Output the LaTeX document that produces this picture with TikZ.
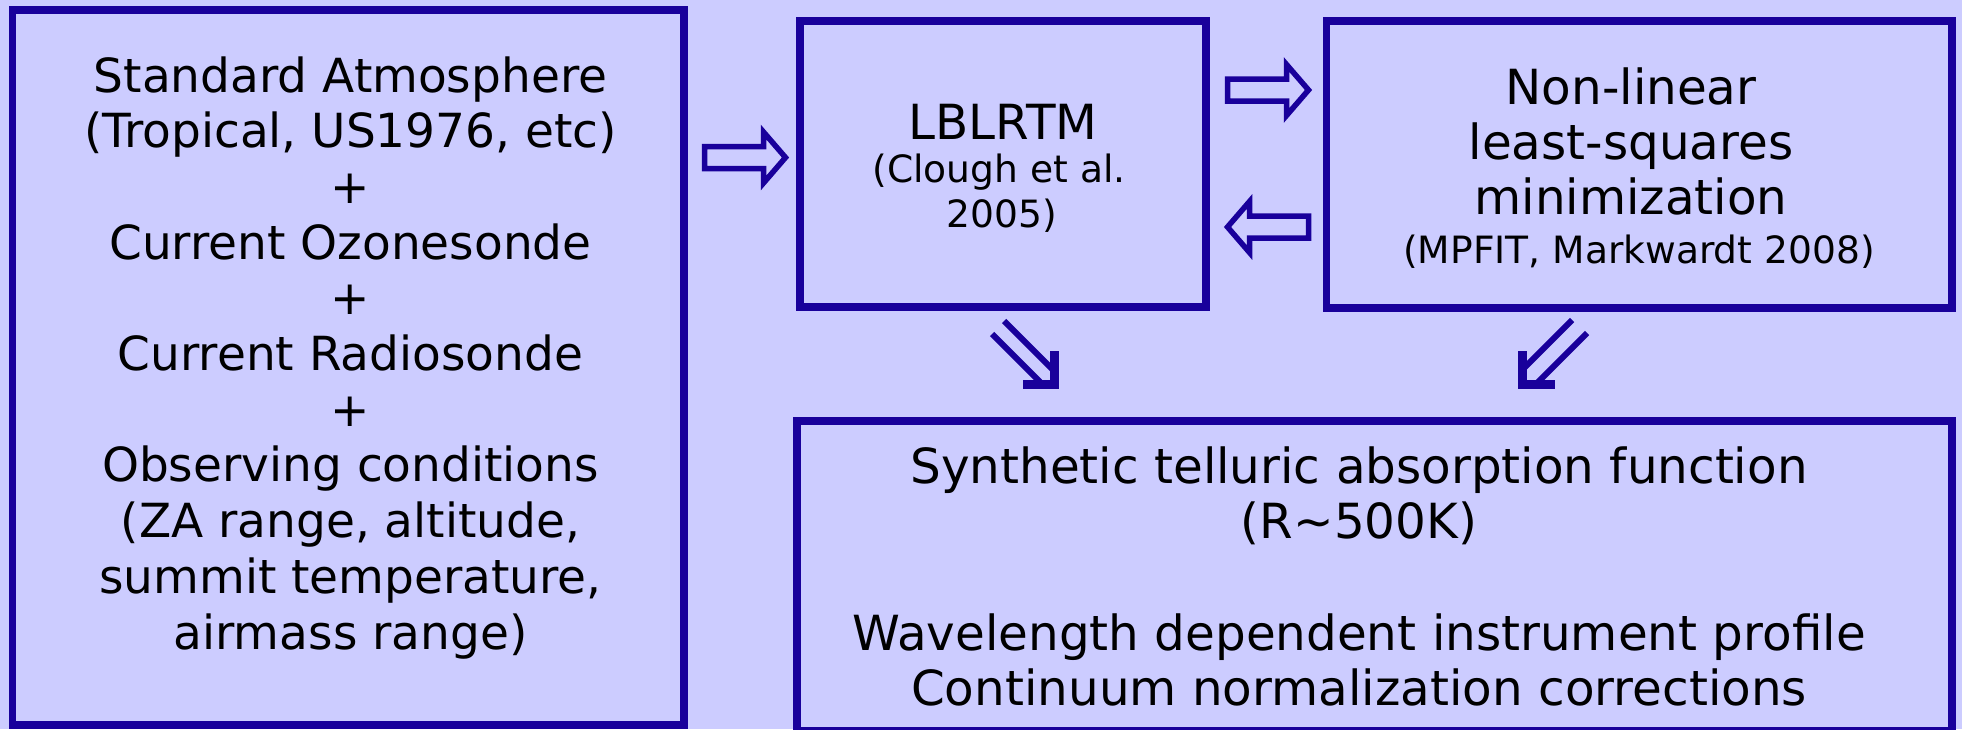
\documentclass[tikz,border=0pt]{standalone}
\usepackage{fontspec}
\setmainfont{DejaVu Sans}
\definecolor{bg}{RGB}{204,204,255}
\definecolor{edge}{RGB}{25,0,155}
\tikzset{
  box/.style={draw=edge, fill=bg, line width=3.75pt, inner sep=0pt, outer sep=0pt},
  big/.style={anchor=base, inner sep=0pt, text=black, font=\fontsize{24.2}{29}\selectfont},
  bigl/.style={anchor=base, inner sep=0pt, text=black, font=\fontsize{23.5}{28}\selectfont},
  small/.style={anchor=base, inner sep=0pt, text=black, font=\fontsize{18.8}{22}\selectfont},
  blockarrow/.style={draw=edge, line width=2.75pt, miter limit=10},
  diag/.style={draw=edge, line width=3pt},
  diaghead/.style={draw=edge, line width=4.5pt, line join=miter, line cap=rect},
}
\begin{document}
\begin{tikzpicture}[x=0.5pt,y=-0.5pt]
\useasboundingbox (0,0) rectangle (1962,729);
\clip (0,0) rectangle (1962,729);
\fill[bg] (0,0) rectangle (1962,729);
% boxes
\node[box, minimum width=335.75pt, minimum height=357.5pt] (src) at (348.25,367.5) {};
\node[box, minimum width=203pt, minimum height=143pt] (lbl) at (1003,164) {};
\node[box, minimum width=312.75pt, minimum height=143.5pt] (fit) at (1639.25,164.5) {};
\node[box, minimum width=577.5pt, minimum height=155pt] (out) at (1374.5,576) {};
% left box text
\node[bigl] (s1) at (350.5,92) {Standard Atmosphere};
\node[bigl] (s2) at (350.5,147.7) {(Tropical, US1976, etc)};
\node[bigl] (s3) at (350.5,203.4) {+};
\node[bigl] (s4) at (350.5,259.1) {Current Ozonesonde};
\node[bigl] (s5) at (350.5,314.8) {+};
\node[bigl] (s6) at (350.5,370.5) {Current Radiosonde};
\node[bigl] (s7) at (350.5,426.2) {+};
\node[bigl] (s8) at (350.5,481.9) {Observing conditions};
\node[bigl] (s9) at (350.5,537.6) {(ZA range, altitude,};
\node[bigl] (s10) at (350.5,593.3) {summit temperature,};
\node[bigl] (s11) at (350.5,649) {airmass range)};
% LBLRTM text
\node[big] (l1) at (1003,139) {LBLRTM};
\node[small] (l2) at (999,182.5) {(Clough et al.};
\node[small] (l3) at (1002,227.5) {2005)};
% fit text
\node[big] (f1) at (1631,104) {Non-linear};
\node[big] (f2) at (1631,159) {least-squares};
\node[big] (f3) at (1631,214) {minimization};
\node[small] (f4) at (1639,263) {(MPFIT, Markwardt 2008)};
% output text
\node[big] (o1) at (1359,483) {Synthetic telluric absorption function};
\node[big] (o2) at (1359,538.7) {(R\textasciitilde500K)};
\node[big] (o3) at (1359,650) {Wavelength dependent instrument profile};
\node[big] (o4) at (1359,705.8) {Continuum normalization corrections};
% block arrows
\coordinate (a1) at (704.5,157.5);
\coordinate (a2) at (1227.5,90);
\coordinate (a3) at (1308.5,227);
\draw[blockarrow, shift={(a1)}] (0,-11) -- (59,-11) -- (59,-25.5) -- (81,0) -- (59,25.5) -- (59,11) -- (0,11) -- cycle;
\draw[blockarrow, shift={(a2)}] (0,-11) -- (59,-11) -- (59,-25.5) -- (81,0) -- (59,25.5) -- (59,11) -- (0,11) -- cycle;
\draw[blockarrow, shift={(a3)}, xscale=-1] (0,-11) -- (59,-11) -- (59,-25.5) -- (81,0) -- (59,25.5) -- (59,11) -- (0,11) -- cycle;
% diagonal double arrows
\coordinate (d1a) at (992,334); \coordinate (d1b) at (1040,382);
\coordinate (d2a) at (1004,321); \coordinate (d2b) at (1052,369);
\draw[diag] (d1a) -- (d1b);
\draw[diag] (d2a) -- (d2b);
\draw[diaghead] (1027,384) -- (1054,384) -- (1054,355);
\coordinate (e1a) at (1572,320); \coordinate (e1b) at (1524,368);
\coordinate (e2a) at (1587,333); \coordinate (e2b) at (1538,382);
\draw[diag] (e1a) -- (e1b);
\draw[diag] (e2a) -- (e2b);
\draw[diaghead] (1550,384) -- (1522,384) -- (1522,355);
\end{tikzpicture}
\end{document}
